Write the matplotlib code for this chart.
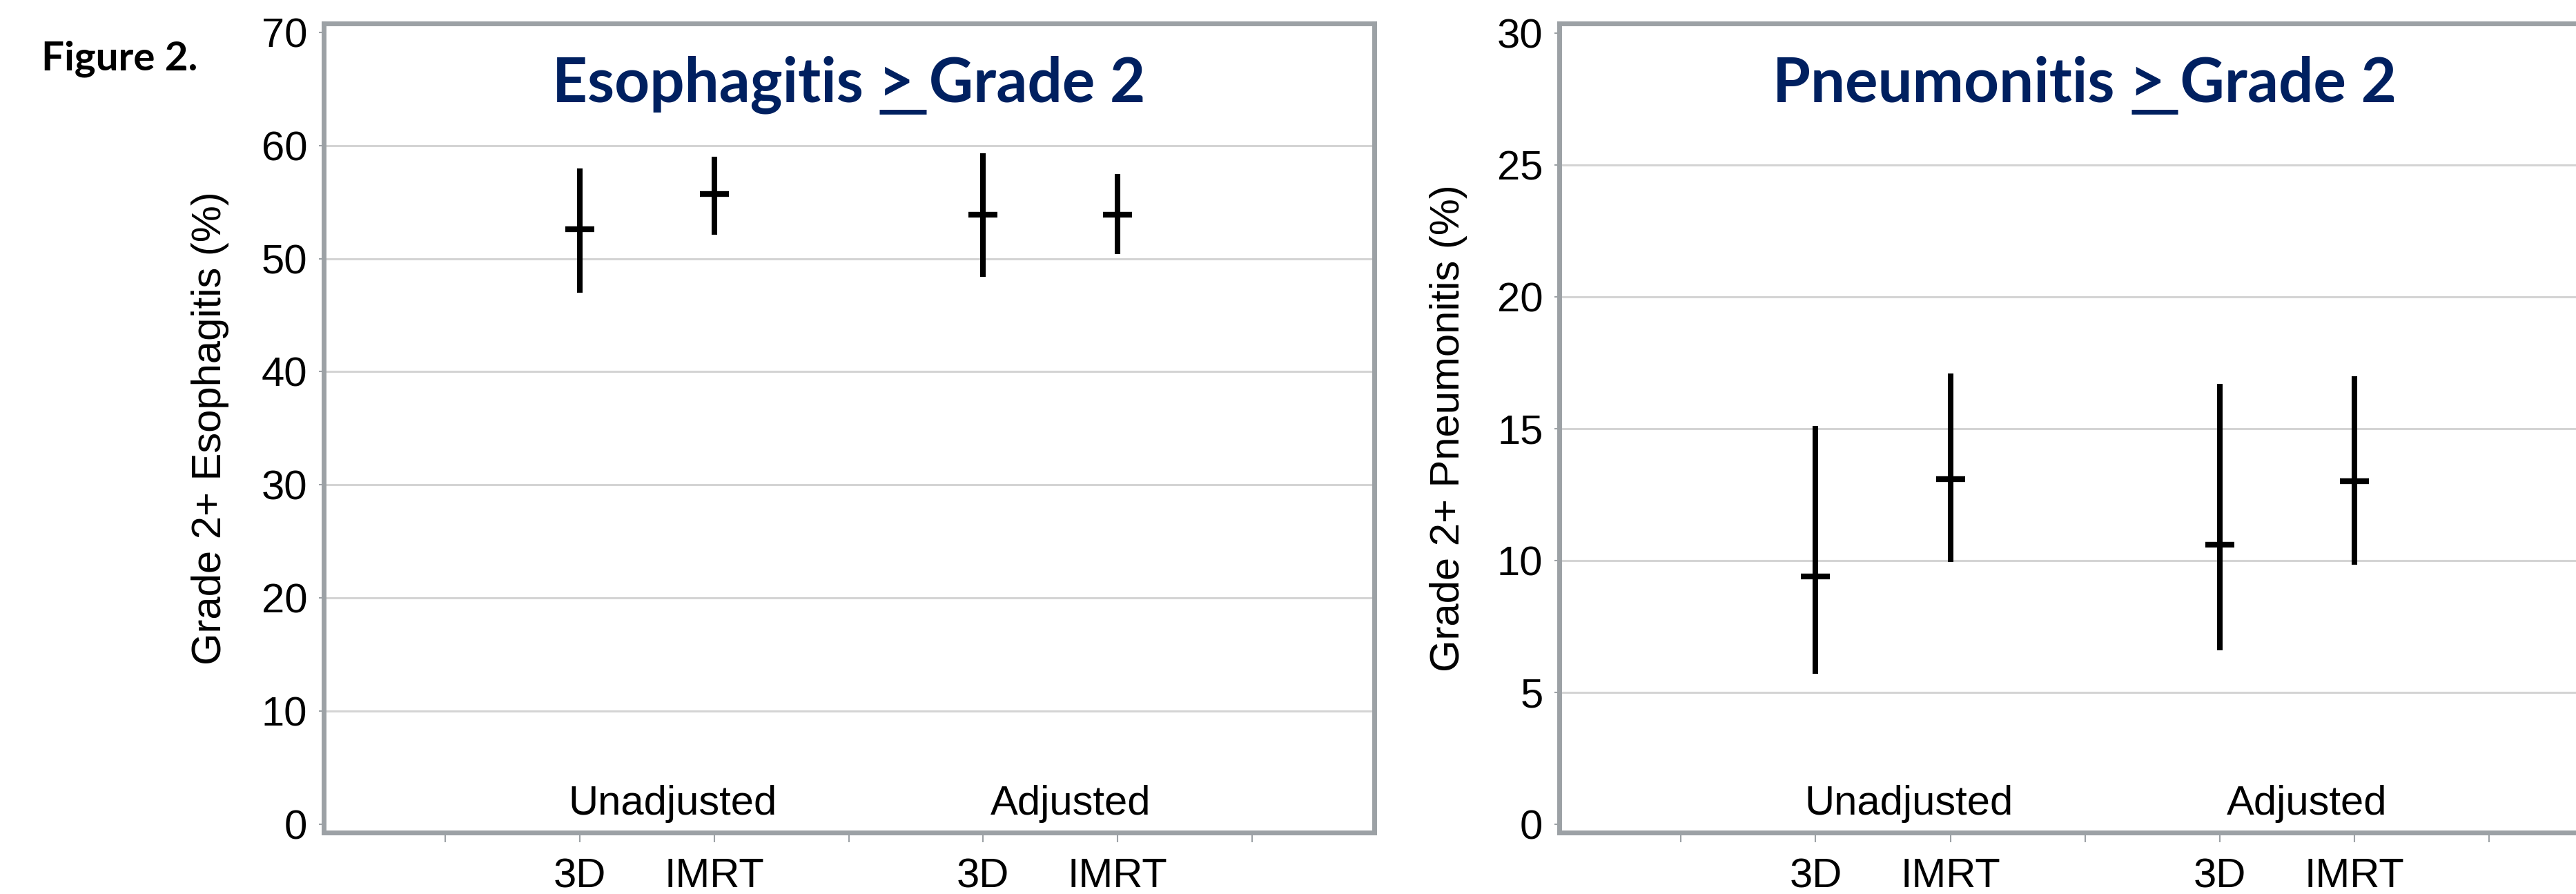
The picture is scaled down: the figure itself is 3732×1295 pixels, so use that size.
import matplotlib
matplotlib.use("Agg")
import matplotlib.pyplot as plt
from matplotlib.lines import Line2D

# data
groups = ["Unadjusted", "Adjusted"]
arms = ["3D", "IMRT", "3D", "IMRT"]
xpos = [1, 2, 4, 5]

eso_est = [52.6, 55.7, 53.9, 53.9]
eso_lo = [47.0, 52.1, 48.4, 50.4]
eso_hi = [58.0, 59.0, 59.3, 57.5]

pneu_est = [9.4, 13.1, 10.6, 13.0]
pneu_lo = [5.7, 9.95, 6.6, 9.85]
pneu_hi = [15.1, 17.1, 16.7, 17.0]

FRAME = "#9ca1a5"
GRID = "#d4d4d4"
NAVY = "#002060"
plt.rcParams["font.family"] = ["Liberation Sans", "DejaVu Sans"]

W, H = 3732, 1295
fig = plt.figure(figsize=(W / 100, H / 100), dpi=100)


def px_axes(x0, x1, y_top, y_bot):
    return fig.add_axes([x0 / W, 1 - y_bot / H, (x1 - x0) / W, (y_bot - y_top) / H])


def panel(ax, est, lo, hi, yticks, ylim, ylabel, title, lab_y, title_y, ylab_x):
    for v in yticks[1:-1]:
        ax.axhline(v, color=GRID, lw=2.2, zorder=0)
    ax.vlines(xpos, lo, hi, color="black", lw=5.8, zorder=3)
    ax.plot(xpos, est, ls="none", marker="_", ms=30, mew=6, color="black", zorder=4)
    ax.set_xlim(-0.905, 6.91)
    ax.set_ylim(*ylim)
    ax.set_yticks(yticks)
    ax.set_xticks(range(7))
    ax.set_xticklabels(["", arms[0], arms[1], "", arms[2], arms[3], ""])
    ax.tick_params(axis="y", length=5, width=1.5, color=FRAME, pad=12, labelsize=43)
    ax.tick_params(axis="x", length=10, width=1.5, color=FRAME, pad=16, labelsize=43)
    for s in ax.spines.values():
        s.set_color(FRAME)
        s.set_linewidth(5)
    ax.set_ylabel(ylabel, fontsize=43, va="center")
    ax.yaxis.set_label_coords(ylab_x, 0.5)
    ax.text(1.69, lab_y, groups[0], ha="center", va="baseline", fontsize=43)
    ax.text(4.65, lab_y, groups[1], ha="center", va="baseline", fontsize=43)

    # title with the ">" underlined (reads as "greater or equal")
    pre, sym, post = title
    tkw = dict(fontsize=64, fontweight="bold", color=NAVY, family="Lato")
    t = ax.text(3.0, title_y, pre + sym + " " + post, ha="center", va="baseline", **tkw)
    r = fig.canvas.get_renderer()

    def width(s):
        tmp = ax.text(0, 0, s, **tkw)
        w = tmp.get_window_extent(r).width
        tmp.remove()
        return w

    bb = t.get_window_extent(r)
    x_start = bb.x0 + width(pre + sym) - width(sym) + 2
    x_end = bb.x1 - width(post) - 4
    base = ax.transData.transform((3.0, title_y))[1]
    y_ul = base - 15
    (fx0, fy), (fx1, _) = fig.transFigure.inverted().transform([(x_start, y_ul), (x_end, y_ul)])
    fig.add_artist(Line2D([fx0, fx1], [fy, fy], color=NAVY, lw=5, solid_capstyle="butt"))


ax1 = px_axes(469, 1991, 34, 1206)
ax2 = px_axes(2259, 3783, 34, 1206)

panel(ax1, eso_est, eso_lo, eso_hi, list(range(0, 71, 10)), (-0.76, 70.8),
      "Grade 2+ Esophagitis (%)", ("Esophagitis ", ">", "Grade 2"), 0.8, 63.9, -0.108)
panel(ax2, pneu_est, pneu_lo, pneu_hi, list(range(0, 31, 5)), (-0.32, 30.37),
      "Grade 2+ Pneumonitis (%)", ("Pneumonitis ", ">", "Grade 2"), 0.35, 27.4, -0.105)

fig.text(60 / W, 1 - 102 / H, "Figure 2.", fontsize=42, fontweight="bold",
         family="Lato", va="baseline", ha="left")

fig.savefig("out.png", dpi=100)
